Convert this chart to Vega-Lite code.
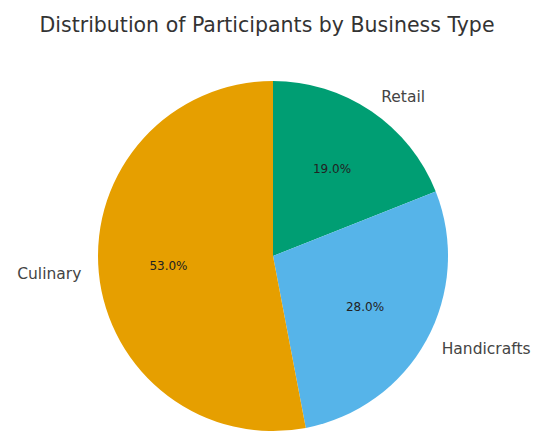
{
  "$schema": "https://vega.github.io/schema/vega-lite/v6.json",
  "autosize": {"type": "none"},
  "width": 522,
  "height": 348,
  "padding": {"left": 12, "top": 82, "right": 0, "bottom": 4},
  "background": "white",
  "title": {
    "text": "Distribution of Participants by Business Type",
    "font": "DejaVu Sans",
    "fontSize": 20.5,
    "fontWeight": "normal",
    "color": "#333333",
    "anchor": "middle",
    "offset": 45,
    "dx": -6
  },
  "data": {
    "values": [
      {"category": "Retail", "value": 19, "ord": 1, "pct": "19.0%"},
      {"category": "Handicrafts", "value": 28, "ord": 2, "pct": "28.0%"},
      {"category": "Culinary", "value": 53, "ord": 3, "pct": "53.0%"}
    ]
  },
  "encoding": {
    "theta": {"field": "value", "type": "quantitative", "stack": true},
    "order": {"field": "ord", "type": "quantitative"}
  },
  "layer": [
    {
      "mark": {"type": "arc", "outerRadius": 175},
      "encoding": {
        "color": {
          "field": "category",
          "type": "nominal",
          "scale": {"domain": ["Retail", "Handicrafts", "Culinary"], "range": ["#009E73", "#56B4E9", "#E69F00"]},
          "legend": null
        }
      }
    },
    {
      "mark": {"type": "text", "radius": 105, "font": "DejaVu Sans", "fontSize": 12, "color": "#222222"},
      "encoding": {"text": {"field": "pct", "type": "nominal"}}
    },
    {
      "mark": {"type": "text", "radius": 192.5, "font": "DejaVu Sans", "fontSize": 15.5, "color": "#444444", "align": "left", "baseline": "middle"},
      "encoding": {
        "text": {"condition": {"test": "datum.category !== 'Culinary'", "field": "category"}, "value": ""}
      }
    },
    {
      "mark": {"type": "text", "radius": 192.5, "font": "DejaVu Sans", "fontSize": 15.5, "color": "#444444", "align": "right", "baseline": "middle"},
      "encoding": {
        "text": {"condition": {"test": "datum.category === 'Culinary'", "field": "category"}, "value": ""}
      }
    }
  ]
}
